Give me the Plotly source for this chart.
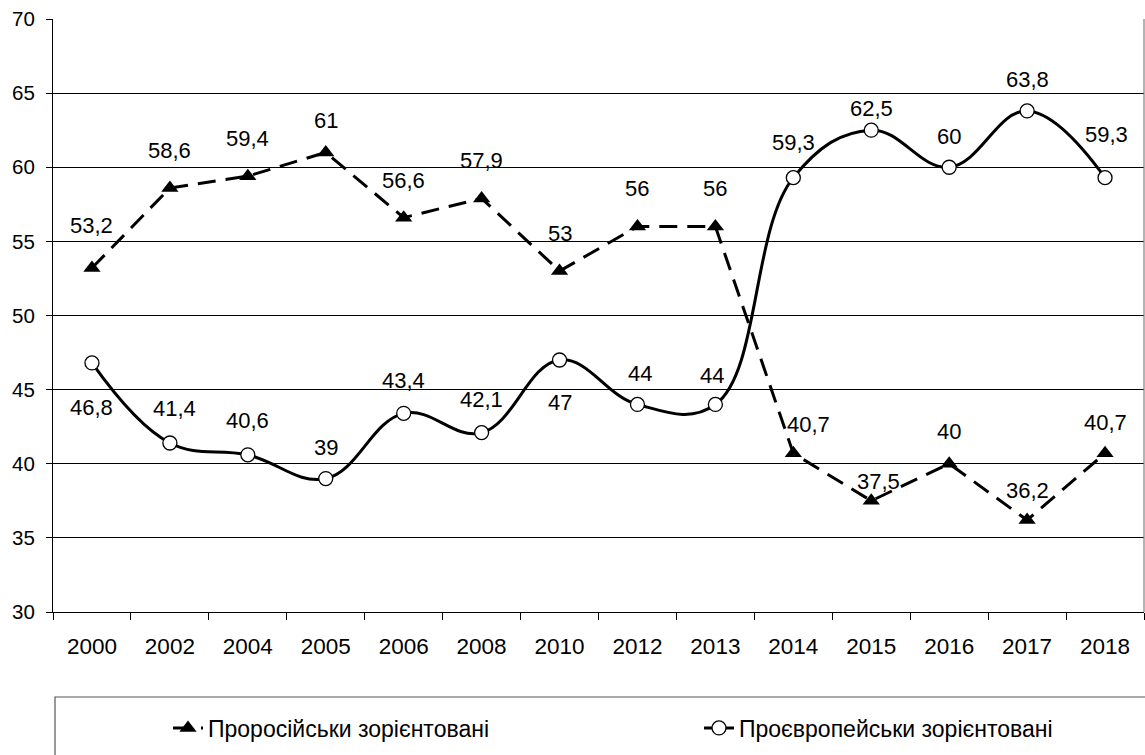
import plotly.graph_objects as go

years = ["2000", "2002", "2004", "2005", "2006", "2008", "2010", "2012",
         "2013", "2014", "2015", "2016", "2017", "2018"]
pro_russian = [53.2, 58.6, 59.4, 61, 56.6, 57.9, 53, 56, 56, 40.7, 37.5, 40, 36.2, 40.7]
pro_european = [46.8, 41.4, 40.6, 39, 43.4, 42.1, 47, 44, 44, 59.3, 62.5, 60, 63.8, 59.3]
y_ticks = [30, 35, 40, 45, 50, 55, 60, 65, 70]

name_ru = "Проросійськи зорієнтовані"
name_eu = "Проєвропейськи зорієнтовані"

# label offsets (styling only, in pixels)
ru_yshift = [43, 38, 38, 32, 37, 38, 38, 38, 38, 29, 19, 32, 30, 31]
ru_xshift = [0, 0, 0, 0, 0, 0, 0, 0, 0, 15, 7, 0, 0, 0]
eu_yshift = [-45, 35, 34, 31, 33, 33, -43, 31, 29, 35, 22, 31, 31, 43]
eu_xshift = [0, 5, 0, 0, 0, 0, 0, 3, -3, 0, 0, 0, 0, 1]

FONT = "Liberation Sans, Arial, sans-serif"


def fmt(v):
    return f"{v:g}".replace(".", ",")


fig = go.Figure()
fig.add_trace(go.Scatter(
    x=years, y=pro_russian, name=name_ru, mode="lines+markers",
    line=dict(color="black", width=3, dash="18px,10px"),
    marker=dict(symbol="triangle-up", size=15, color="black"),
    legend="legend",
))
fig.add_trace(go.Scatter(
    x=years, y=pro_european, name=name_eu, mode="lines+markers",
    line=dict(color="black", width=3, shape="spline", smoothing=1.15),
    marker=dict(symbol="circle", size=14, color="white",
                line=dict(color="black", width=1.3)),
    legend="legend2",
))

annotations = []
for i, v in enumerate(pro_russian):
    annotations.append(dict(x=i, y=v, xref="x", yref="y", text=fmt(v),
                            showarrow=False, yshift=ru_yshift[i], xshift=ru_xshift[i],
                            font=dict(size=22, color="black", family=FONT)))
for i, v in enumerate(pro_european):
    annotations.append(dict(x=i, y=v, xref="x", yref="y", text=fmt(v),
                            showarrow=False, yshift=eu_yshift[i], xshift=eu_xshift[i],
                            font=dict(size=22, color="black", family=FONT)))

plot_h = 755 - 19 - 143
plot_w = 1145 - 53 - 1

leg_common = dict(
    orientation="h", xanchor="left", yanchor="middle",
    y=(612 - 728) / plot_h,
    font=dict(size=23, family=FONT, color="black"),
    itemwidth=30,
    bgcolor="rgba(0,0,0,0)", borderwidth=0,
)

fig.update_layout(
    width=1145, height=755,
    margin=dict(l=53, r=1, t=19, b=143),
    paper_bgcolor="white", plot_bgcolor="white",
    font=dict(family=FONT, size=20, color="black"),
    annotations=annotations,
    showlegend=True,
    legend=dict(x=(168 - 53) / plot_w, **leg_common),
    legend2=dict(x=(699 - 53) / plot_w, **leg_common),
    shapes=[
        dict(type="rect", xref="paper", yref="paper",
             x0=(55 - 53) / plot_w, x1=(1160 - 53) / plot_w,
             y0=(612 - 697) / plot_h, y1=(612 - 770) / plot_h,
             line=dict(color="#555555", width=1.2), fillcolor="rgba(0,0,0,0)",
             layer="below"),
        dict(type="line", xref="paper", yref="paper", x0=1, x1=1, y0=0, y1=1,
             line=dict(color="#808080", width=1.2)),
    ],
)

fig.update_xaxes(
    type="category", range=[-0.5, 13.5],
    tickson="boundaries", ticks="outside", ticklen=7, tickcolor="black", tickwidth=1,
    showline=True, linecolor="black", linewidth=1.2,
    showgrid=False, zeroline=False,
    tickfont=dict(size=22.5, family=FONT, color="black"),
    ticklabelstandoff=14,
)
fig.update_yaxes(
    range=[30, 70], tickvals=y_ticks, ticktext=[str(t) for t in y_ticks],
    ticks="outside", ticklen=6, tickcolor="black", tickwidth=1,
    showline=True, linecolor="black", linewidth=1.2,
    showgrid=True, gridcolor="black", gridwidth=1,
    zeroline=False,
    tickfont=dict(size=20.5, family=FONT, color="black"),
    ticklabelstandoff=7,
)

fig.write_html(
    "out.html",
    config={"displayModeBar": False},
    post_script="document.body.style.margin='0';document.body.style.padding='0';",
)
